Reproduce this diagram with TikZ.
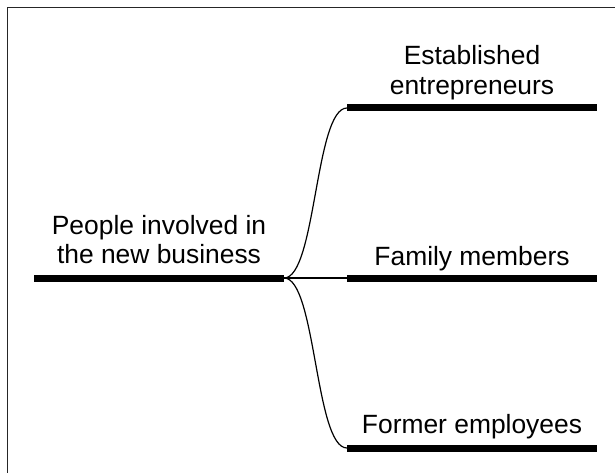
\documentclass[tikz,border=0pt]{standalone}
\usepackage{fontspec}
\setmainfont{Liberation Sans}
\usepackage{tikz}

\begin{document}
\begin{tikzpicture}[x=1pt, y=-1pt,
    bar/.style={line width=7pt},
    link/.style={line width=1.2pt},
    lbl/.style={font=\fontsize{26.4}{29.5}\selectfont, align=center, inner sep=0pt, anchor=base}]
    \useasboundingbox (0,0) rectangle (615,473);
    % Frame
    \draw[line width=1pt, black!85] (7,473) -- (7,8) -- (615,8);
    % Bars
    \coordinate (rootL) at (34,278);
    \coordinate (rootR) at (284,278);
    \coordinate (estL) at (347,108);
    \coordinate (estR) at (597,108);
    \coordinate (famL) at (347,278);
    \coordinate (famR) at (597,278);
    \coordinate (formerL) at (347,448);
    \coordinate (formerR) at (597,448);
    \draw[bar] (rootL) -- (rootR);
    \draw[bar] (estL) -- (estR);
    \draw[bar] (famL) -- (famR);
    \draw[bar] (formerL) -- (formerR);
    % Labels
    \node[lbl] (root) at (159,263.5) {People involved in\\the new business};
    \node[lbl] (est) at (472,94.3) {Established\\entrepreneurs};
    \node[lbl] (fam) at (472,265) {Family members};
    \node[lbl] (former) at (472,433) {Former employees};
    % Links
    \draw[link] (rootR) .. controls +(32,0) and +(-32,0) .. (estL);
    \draw[link] (rootR) -- (famL);
    \draw[link] (rootR) .. controls +(32,0) and +(-32,0) .. (formerL);
\end{tikzpicture}
\end{document}
